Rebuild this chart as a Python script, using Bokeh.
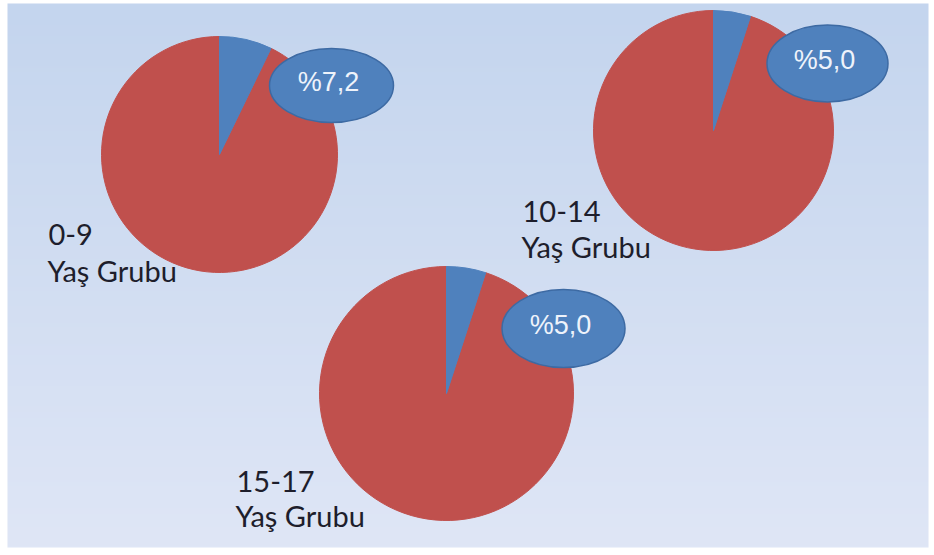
import numpy as np
from bokeh.plotting import figure
from bokeh.models import Range1d
from bokeh.core.properties import value
from bokeh.embed import file_html
from bokeh.resources import INLINE

# ---- data ----
groups = ["0-9", "10-14", "15-17"]
group_line2 = ["Yaş Grubu", "Yaş Grubu", "Yaş Grubu"]
pct = [7.2, 5.0, 5.0]
pct_labels = ["%7,2", "%5,0", "%5,0"]

# ---- layout (pixel-like data units) ----
W, H = 934, 555
BG_X0, BG_X1, BG_Y0, BG_Y1 = 7, 928, 8, 552
pie_x = [219, 713, 446]
pie_y = [401, 425, 162]
pie_r = [118, 120, 127]
ell_x = [331, 827, 563]
ell_y = [470, 492, 227]
ell_w = [124, 121, 123]
ell_h = [74, 77, 78]
lab_x = [48, 522, 236]
lab_y1 = [321, 344, 74]
lab_y2 = [285, 309, 40]

RED = "#c0504d"
BLUE = "#4f81bd"

p = figure(width=W, height=H, output_backend="svg", toolbar_location=None,
           x_range=Range1d(0, W), y_range=Range1d(0, H), min_border=0)
p.axis.visible = False
p.grid.visible = False
p.outline_line_color = None
p.background_fill_color = "white"
p.border_fill_color = "white"

# gradient background
n = 256
top = np.array([0xc4, 0xd5, 0xee], dtype=float)
bot = np.array([0xdf, 0xe6, 0xf6], dtype=float)
t = np.linspace(0, 1, n)[:, None]  # row 0 = bottom
cols = bot * (1 - t) + top * t
img = np.zeros((n, 1), dtype=np.uint32)
view = img.view(dtype=np.uint8).reshape((n, 1, 4))
view[:, 0, 0] = cols[:, 0].astype(np.uint8)
view[:, 0, 1] = cols[:, 1].astype(np.uint8)
view[:, 0, 2] = cols[:, 2].astype(np.uint8)
view[:, 0, 3] = 255
p.image_rgba(image=[img], x=BG_X0, y=BG_Y0, dw=BG_X1 - BG_X0, dh=BG_Y1 - BG_Y0)

for i in range(len(groups)):
    a = np.deg2rad(90 - 3.6 * pct[i])
    top_a = np.deg2rad(90)
    # red remainder
    p.wedge(x=pie_x[i], y=pie_y[i], radius=pie_r[i], start_angle=top_a,
            end_angle=a, direction="anticlock", fill_color=RED,
            line_color=RED, line_width=1)
    # blue share
    p.wedge(x=pie_x[i], y=pie_y[i], radius=pie_r[i], start_angle=a,
            end_angle=top_a, direction="anticlock", fill_color=BLUE,
            line_color=BLUE, line_width=1)
    # label ellipse
    p.ellipse(x=ell_x[i], y=ell_y[i], width=ell_w[i], height=ell_h[i],
              fill_color=BLUE, line_color="#3d6aa3", line_width=1.5)
    p.text(x=[ell_x[i] - 3], y=[ell_y[i] + 4], text=[pct_labels[i]],
           text_font=value("Liberation Sans"), text_font_size="27px",
           text_color="#eef3fb", text_align="center", text_baseline="middle")
    p.text(x=[lab_x[i]], y=[lab_y1[i]], text=[groups[i]],
           text_font=value("Lato"), text_font_size="29px",
           text_color="#1e1e2c", text_align="left", text_baseline="alphabetic")
    p.text(x=[lab_x[i] - 1], y=[lab_y2[i]], text=[group_line2[i]],
           text_font=value("Lato"), text_font_size="29px",
           text_color="#1e1e2c", text_align="left", text_baseline="alphabetic")

open("out.html", "w").write(file_html(p, INLINE))
